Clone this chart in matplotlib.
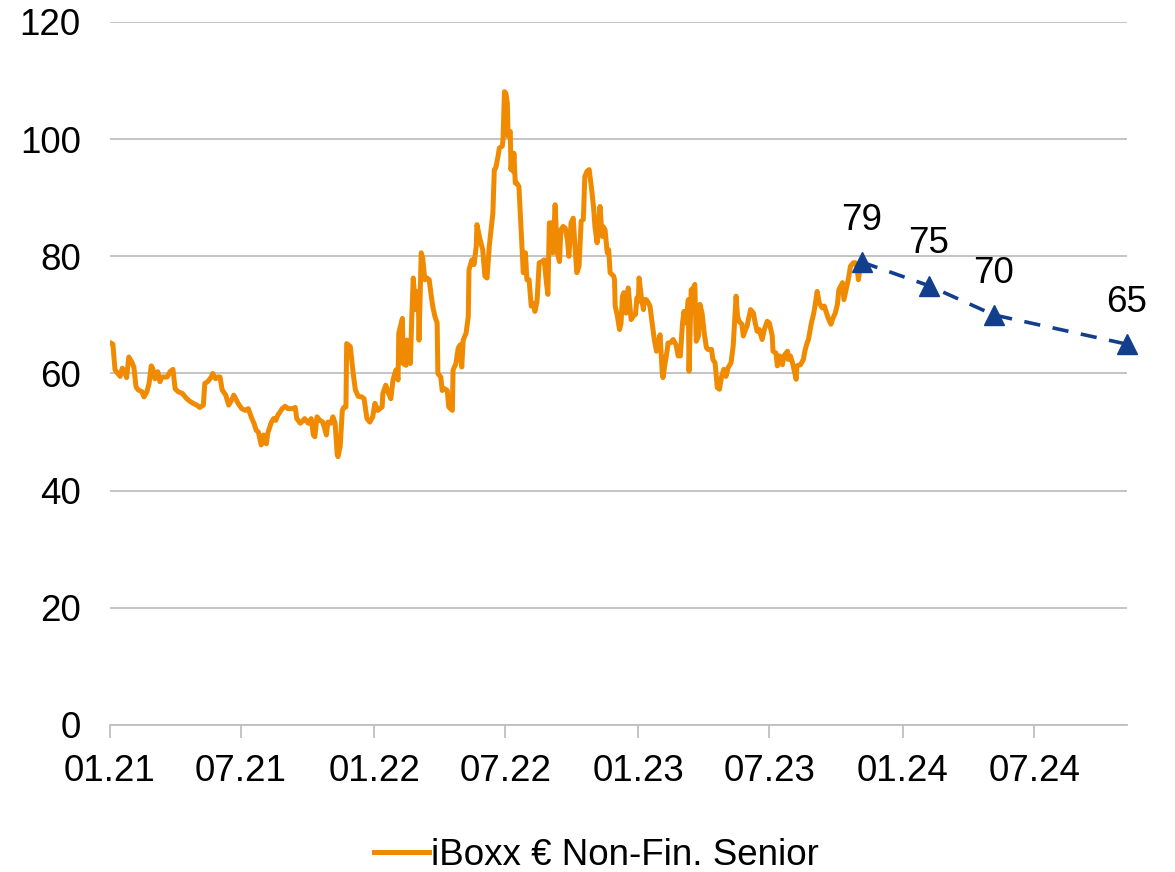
import numpy as np
import pandas as pd
import matplotlib
matplotlib.use("Agg")
import matplotlib.pyplot as plt
import matplotlib.dates as mdates

plt.rcParams["font.family"] = ["Liberation Sans", "DejaVu Sans"]

# spread history, days since 01.01.2021 and value
start = pd.Timestamp("2021-01-01")
days = [1, 4, 7, 11, 14, 17, 19, 23, 26, 30, 33, 36, 39, 44, 47, 51, 54, 57, 59, 62,
        66, 69, 72, 79, 83, 87, 90, 94, 100, 106, 111, 115, 120, 124, 129, 131, 135, 140, 142, 146,
        149, 152, 155, 160, 164, 169, 171, 177, 182, 187, 191, 196, 199, 202, 205, 209, 212, 216, 218, 223,
        226, 229, 232, 238, 242, 246, 252, 256, 258, 263, 267, 269, 274, 278, 281, 283, 286, 290, 294, 299,
        301, 305, 308, 311, 314, 315, 318, 321, 323, 326, 327, 332, 336, 339, 343, 348, 351, 355, 359, 363,
        366, 370, 376, 377, 381, 384, 388, 391, 395, 398, 399, 404, 405, 409, 410, 415, 417, 419, 422, 424,
        426, 427, 430, 432, 435, 438, 441, 444, 446, 449, 452, 453, 457, 459, 462, 466, 468, 473, 474, 478,
        481, 484, 486, 488, 492, 495, 496, 500, 503, 506, 507, 511, 515, 518, 521, 524, 528, 529, 531, 533,
        536, 538, 542, 543, 545, 547, 549, 550, 553, 554, 556, 557, 558, 560, 562, 565, 568, 571, 574, 576,
        579, 582, 585, 587, 590, 593, 597, 600, 603, 605, 607, 611, 612, 615, 618, 621, 623, 626, 629, 632,
        634, 637, 640, 643, 645, 648, 651, 654, 656, 659, 662, 665, 668, 670, 673, 674, 677, 680, 681, 684,
        687, 689, 691, 696, 697, 698, 701, 704, 706, 708, 710, 713, 716, 720, 723, 726, 728, 730, 731, 734,
        737, 738, 741, 744, 746, 749, 752, 755, 757, 760, 763, 764, 767, 770, 771, 775, 778, 782, 785, 788,
        791, 793, 796, 799, 800, 803, 806, 808, 810, 813, 815, 818, 821, 824, 826, 831, 833, 836, 839, 842,
        845, 848, 851, 854, 858, 861, 862, 865, 867, 869, 873, 875, 878, 880, 882, 885, 889, 891, 894, 897,
        901, 904, 908, 911, 915, 916, 920, 922, 925, 929, 931, 936, 937, 940, 943, 945, 948, 949, 954, 958,
        960, 963, 965, 969, 972, 974, 977, 980, 984, 987, 990, 992, 996, 999, 1002, 1005, 1007, 1012, 1014, 1017,
        1020, 1023, 1027, 1030, 1032, 1034, 1037]
spread = [65.2, 65.0, 60.6, 60.0, 59.5, 60.9, 60.6, 59.3, 62.8, 62.0, 61.1, 57.7, 57.2, 56.9, 56.0, 56.9, 58.3, 61.3, 60.9, 59.1,
          60.3, 58.6, 59.4, 59.4, 60.3, 60.7, 57.4, 56.9, 56.6, 55.7, 55.2, 54.9, 54.6, 54.2, 54.6, 58.3, 58.6, 59.4, 60.0, 59.1,
          59.4, 59.4, 57.2, 56.3, 54.6, 55.7, 56.3, 54.9, 54.0, 53.7, 54.0, 52.3, 51.5, 50.3, 50.0, 47.8, 49.5, 48.0, 49.8, 51.7,
          52.3, 52.0, 52.9, 54.0, 54.4, 54.0, 54.0, 54.2, 52.3, 51.5, 52.0, 52.3, 51.5, 52.3, 49.5, 49.2, 52.6, 52.0, 51.7, 49.5,
          51.7, 51.5, 52.6, 51.5, 46.1, 45.8, 47.5, 53.7, 54.2, 54.3, 65.1, 64.6, 60.0, 57.2, 56.1, 56.0, 55.7, 52.3, 51.7, 52.6,
          54.9, 53.7, 54.3, 56.6, 58.0, 56.9, 55.7, 58.9, 60.6, 58.9, 66.9, 69.4, 61.7, 61.4, 65.7, 61.7, 69.7, 76.3, 70.9, 74.0,
          72.6, 65.7, 80.6, 79.7, 76.0, 76.3, 76.0, 73.1, 71.4, 69.7, 68.6, 60.0, 59.4, 57.1, 57.4, 57.1, 54.3, 53.7, 60.6, 61.7,
          64.3, 64.9, 61.1, 65.7, 66.9, 69.7, 77.7, 79.4, 78.6, 81.7, 85.4, 83.0, 81.1, 76.6, 76.3, 81.7, 86.3, 87.4, 94.8, 95.1,
          97.0, 98.5, 98.8, 99.9, 108.1, 107.8, 106.1, 100.5, 101.3, 94.8, 97.0, 94.5, 97.6, 92.5, 92.5, 91.9, 84.5, 77.2, 80.6, 76.0,
          76.0, 71.5, 72.0, 70.6, 72.3, 78.9, 79.1, 79.4, 75.5, 73.5, 85.7, 85.7, 80.6, 88.8, 80.6, 79.1, 84.5, 85.1, 84.8, 82.8,
          80.0, 85.7, 86.5, 80.6, 77.2, 78.3, 86.0, 86.3, 93.6, 94.5, 94.8, 91.9, 88.5, 85.1, 82.3, 84.5, 88.5, 83.4, 85.1, 84.5,
          80.6, 81.1, 77.2, 76.6, 76.0, 71.5, 69.8, 67.5, 68.6, 73.2, 73.8, 70.3, 74.6, 69.2, 69.8, 70.1, 72.9, 72.3, 76.3, 73.2,
          70.9, 72.6, 72.6, 72.0, 71.5, 68.6, 65.8, 63.8, 65.2, 66.6, 60.1, 59.3, 61.8, 64.1, 65.2, 65.3, 65.8, 64.9, 63.0, 63.0,
          68.6, 70.6, 68.6, 72.6, 60.4, 74.3, 74.6, 75.2, 65.5, 66.4, 71.8, 70.3, 66.9, 64.4, 64.1, 64.1, 62.4, 61.8, 57.6, 57.3,
          59.5, 60.7, 59.5, 61.0, 61.8, 64.7, 66.9, 73.2, 69.8, 68.9, 68.4, 66.4, 67.5, 68.0, 69.2, 70.9, 70.3, 68.9, 67.2, 67.5,
          65.8, 67.5, 68.9, 68.6, 66.4, 63.8, 63.5, 61.3, 63.0, 61.5, 63.0, 63.8, 62.4, 63.0, 61.8, 60.7, 59.0, 61.3, 61.5, 62.4,
          63.8, 65.2, 65.8, 68.6, 70.1, 71.5, 74.0, 72.0, 71.2, 71.5, 70.3, 69.5, 68.4, 69.5, 70.3, 71.8, 74.3, 75.5, 72.6, 74.3,
          76.0, 78.3, 78.9, 78.9, 78.3, 76.0, 78.6]

fc_dates = ["2023-11-06", "2024-02-06", "2024-05-06", "2024-11-06"]
fc_values = [79, 75, 70, 65]

tick_dates = ["2021-01-01", "2021-07-01", "2022-01-01", "2022-07-01",
              "2023-01-01", "2023-07-01", "2024-01-01", "2024-07-01"]
tick_labels = ["01.21", "07.21", "01.22", "07.22", "01.23", "07.23", "01.24", "07.24"]

hist_x = start + pd.to_timedelta(days, unit="D")
fc_x = pd.to_datetime(fc_dates)

orange = "#f08a00"
blue = "#123f8c"
grey = "#bfbfbf"
fs = 26.5

fig = plt.figure(figsize=(11.75, 8.72), dpi=100)
ax = fig.add_axes([0.0936, 0.1686, 0.8655, 0.8062])

ax.plot(hist_x, spread, color=orange, lw=3.6, solid_joinstyle="round",
        label="iBoxx € Non-Fin. Senior", zorder=3)
ax.plot(fc_x, fc_values, color=blue, lw=2.6, ls=(0, (4.5, 3.5)), marker="^",
        markersize=15, clip_on=False, zorder=4)
for d, v in zip(fc_x, fc_values):
    ax.annotate(str(v), (d, v), xytext=(0, 30), textcoords="offset points",
                ha="center", va="center", fontsize=fs)

ax.set_ylim(0, 120)
ax.set_yticks(range(0, 121, 20))
ax.set_xlim(pd.Timestamp("2021-01-01"), pd.Timestamp("2024-11-06"))
ax.set_xticks(pd.to_datetime(tick_dates))
ax.set_xticklabels(tick_labels)

ax.grid(axis="y", color=grey, lw=1.3)
ax.set_axisbelow(True)
for s in ["left", "right", "top"]:
    ax.spines[s].set_visible(False)
ax.spines["bottom"].set_color(grey)
ax.spines["bottom"].set_linewidth(1.3)
ax.tick_params(axis="y", length=0, pad=21, labelsize=fs)
ax.tick_params(axis="x", length=9, width=1.3, color=grey, pad=12, labelsize=fs)

fig.legend(loc="center", bbox_to_anchor=(596 / 1175, 1 - 855 / 872), frameon=False,
           fontsize=fs, handlelength=1.5, handletextpad=0.05)

fig.savefig("out.png", dpi=100)
